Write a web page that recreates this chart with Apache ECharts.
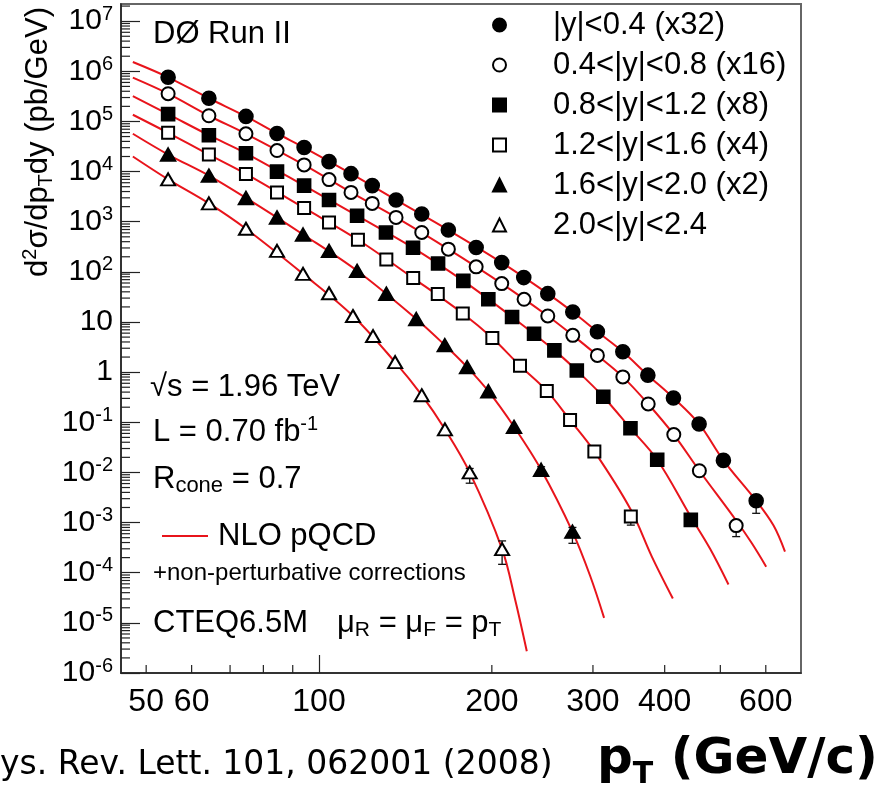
<!DOCTYPE html>
<html><head><meta charset="utf-8">
<script src="https://cdn.jsdelivr.net/npm/echarts@6/dist/echarts.min.js"></script>
<style>html,body{margin:0;padding:0;background:#fff;}#c{width:877px;height:796px;}</style>
</head><body><div id="c"></div>
<script>
const FONT = "'Liberation Sans', Arial, Helvetica, sans-serif";

// ---- data (plotted values, already multiplied by the scale factors) ----
const seriesNames = ['|y|<0.4 (x32)', '0.4<|y|<0.8 (x16)', '0.8<|y|<1.2 (x8)', '1.2<|y|<1.6 (x4)', '1.6<|y|<2.0 (x2)', '2.0<|y|<2.4'];

const ptA = [54.6,64.3,74.6,84.5,94.2,104.1,113.7,123.8,136.2,151.0,168.0,187.8,208.1,227.3,250.3,276.7,305.4,338.2,373.9,414.3,459.2,506.2,577.3];
const valA = [7.6e5,2.9e5,1.26e5,5.75e4,3.02e4,1.58e4,9.1e3,5.25e3,2.72e3,1.43e3,682,306,153,76.9,36.8,15.8,6.40,2.55,0.871,0.306,0.0925,0.0174,0.00272];

const ptB = [54.6,64.3,74.6,84.5,94.2,104.1,113.7,123.8,136.2,151.0,168.0,187.8,208.1,227.6,250.3,276.7,305.4,338.2,374.4,414.9,459.7,532.8];
const valB = [3.58e5,1.30e5,5.68e4,2.63e4,1.36e4,6.92e3,3.85e3,2.32e3,1.22e3,611,284,126,58.3,28.4,13.2,5.42,2.16,0.805,0.232,0.0568,0.0108,8.7e-4];

const ptC = [54.6,64.3,74.6,84.5,94.2,104.1,116.5,130.8,145.8,161.2,178.4,197.2,216.9,236.9,257.0,281.2,312.7,348.7,388.2,444.2];
const valC = [1.40e5,5.32e4,2.32e4,1.00e4,5.25e3,2.72e3,1.32e3,608,302,147,66.1,28.4,12.6,5.83,2.72,1.08,0.324,0.0759,0.0179,1.13e-3];

const ptD = [54.6,64.3,74.6,84.5,94.2,104.1,116.9,131.0,145.9,161.0,178.0,200.4,223.9,249.3,273.7,301.7,349.2];
const valD = [5.94e4,2.19e4,9.0e3,3.85e3,1.88e3,968,437,176,75.2,36.3,14.8,4.79,1.34,0.423,0.111,0.0263,1.32e-3];

const ptE = [54.6,64.3,74.6,84.5,93.8,104.1,116.5,131.0,147.7,165.6,181.1,197.2,218.6,243.7,276.3];
const valE = [2.19e4,8.32e3,2.98e3,1.22e3,557,263,105,36.8,11.5,3.47,1.26,0.417,0.0813,0.0113,6.6e-4];

const ptF = [54.6,64.3,74.6,84.5,93.8,104.1,114.6,124.2,135.7,151.0,165.7,183.0,208.4];
const valF = [7.0e3,2.32e3,724,263,91.2,37.5,13.2,5.25,1.58,0.347,0.0724,0.0100,2.95e-4];

// error bars: [pT, low, high]
const errA = [[577.3,1.53e-3,3.5e-3]];
const errB = [[532.8,5.25e-4,1.1e-3]];
const errC = [];
const errD = [[349.2,8.9e-4,1.6e-3]];
const errE = [[243.7,9.1e-3,1.3e-2],[276.3,3.86e-4,8.0e-4]];
const errF = [[183.0,6.1e-3,1.2e-2],[208.4,1.47e-4,4.31e-4]];

// NLO pQCD curves
const nloPtA = [47.4,54.6,64.3,74.6,84.5,94.2,113.7,136.2,168.0,208.1,250.3,276.7,305.4,338.2,373.9,414.3,459.2,506.2,577.3,619,648];
const nloValA = [1.53e6,7.6e5,2.9e5,1.26e5,5.75e4,3.02e4,9.1e3,2.72e3,682,153,36.8,15.8,6.4,2.55,0.871,0.306,0.0925,0.0174,0.00272,8.7e-4,2.63e-4];
const nloPtB = [47.4,54.6,64.3,74.6,94.2,113.7,136.2,168.0,208.1,250.3,276.7,305.4,338.2,374.4,414.9,459.7,532.8,567.4,600.9];
const nloValB = [7.48e5,3.58e5,1.30e5,5.68e4,1.36e4,3.85e3,1.22e3,284,58.3,13.2,5.42,2.16,0.805,0.232,0.0568,0.0108,1.1e-3,3.86e-4,1.32e-4];
const nloPtC = [47.4,54.6,64.3,74.6,94.2,116.5,145.8,178.4,216.9,257.0,281.2,312.7,348.7,388.2,444.2,479.9,516.6];
const nloValC = [3.2e5,1.40e5,5.32e4,2.32e4,5.25e3,1.32e3,302,66.1,12.6,2.72,1.08,0.324,0.0759,0.0179,1.3e-3,3.0e-4,5.83e-5];
const nloPtD = [47.4,54.6,64.3,74.6,94.2,116.9,145.9,178.0,200.4,223.9,249.3,273.7,301.7,349.2,379.9,413.3];
const nloValD = [1.36e5,5.94e4,2.19e4,9.0e3,1.88e3,437,75.2,14.8,4.79,1.34,0.423,0.111,0.0263,1.8e-3,2.1e-4,3.06e-5];
const nloPtE = [47.4,54.6,64.3,74.6,93.8,116.5,147.7,165.6,181.1,197.2,218.6,243.7,276.3,296.6,313.7];
const nloValE = [5.68e4,2.19e4,8.32e3,2.98e3,557,105,11.5,3.47,1.26,0.417,0.0813,0.0113,6.6e-4,8.7e-5,1.26e-5];
const nloPtF = [47.4,54.6,64.3,74.6,93.8,114.6,135.7,151.0,165.7,183.0,208.4,219.6,230.1];
const nloValF = [2.0e4,7.0e3,2.32e3,724,91.2,13.2,1.58,0.347,0.0724,0.0100,2.95e-4,2.9e-5,2.72e-6];

// axis ticks
const xTickLabels = [50, 60, 100, 200, 300, 400, 600];
const xMinorTicks = [50, 60, 70, 80, 90, 200, 300, 400, 500, 600];
const xMajorTicks = [100];
const yTickExps = [-6,-5,-4,-3,-2,-1,0,1,2,3,4,5,6,7];
const X_MIN = 45.2, X_MAX = 691, Y_MIN = 1e-6, Y_MAX = 2.2e7;

// ---- build ----
const zip = (a, b) => a.map((v, i) => [v, b[i]]);
const yTickVals = yTickExps.map(e => Math.pow(10, e));
const yMinorTicks = [];
yTickExps.forEach(e => { for (let m = 2; m <= 9; m++) { const v = m * Math.pow(10, e); if (v < Y_MAX) yMinorTicks.push(v); } });

const ptsAll = [ptA, ptB, ptC, ptD, ptE, ptF];
const valsAll = [valA, valB, valC, valD, valE, valF];
const errAll = [errA, errB, errC, errD, errE, errF];
const nloPts = [nloPtA, nloPtB, nloPtC, nloPtD, nloPtE, nloPtF];
const nloVals = [nloValA, nloValB, nloValC, nloValD, nloValE, nloValF];
const symbols = ['circle', 'emptyCircle', 'rect', 'emptyRect', 'triangle', 'emptyTriangle'];
const symSizes = [14, 13, 13, 12, [15, 13], [14, 12]];
const RED = '#e8141b';

const series = [];
nloPts.forEach((p, i) => {
  series.push({ type: 'line', name: 'NLO pQCD', data: zip(p, nloVals[i]), showSymbol: false, symbol: 'none',
    smooth: 0.35, lineStyle: { color: RED, width: 2 }, itemStyle: { color: RED }, z: 3, silent: true });
});
errAll.forEach((errs) => {
  series.push({ type: 'custom', coordinateSystem: 'cartesian2d', silent: true, z: 4, data: errs,
    encode: { x: 0, y: [1, 2] },
    renderItem: (params, api) => {
      const x = api.value(0);
      const p1 = api.coord([x, api.value(1)]), p2 = api.coord([x, api.value(2)]);
      const st = { stroke: '#111', lineWidth: 1.3 };
      return { type: 'group', children: [
        { type: 'line', shape: { x1: p1[0], y1: p1[1], x2: p2[0], y2: p2[1] }, style: st },
        { type: 'line', shape: { x1: p1[0] - 4, y1: p1[1], x2: p1[0] + 4, y2: p1[1] }, style: st },
        { type: 'line', shape: { x1: p2[0] - 4, y1: p2[1], x2: p2[0] + 4, y2: p2[1] }, style: st }
      ] };
    } });
});
ptsAll.forEach((p, i) => {
  series.push({ type: 'scatter', name: seriesNames[i], data: zip(p, valsAll[i]), symbol: symbols[i], symbolSize: symSizes[i],
    itemStyle: { color: '#000', borderColor: '#000', borderWidth: 1.6, opacity: 1 }, z: 5, silent: true });
});
// minor ticks drawn through the axes' scales
series.push({ type: 'custom', coordinateSystem: 'cartesian2d', silent: true, z: 6, clip: false,
  data: yMinorTicks.map(v => [X_MIN, v]),
  renderItem: (params, api) => { const p = api.coord([api.value(0), api.value(1)]);
    return { type: 'line', shape: { x1: p[0], y1: p[1], x2: p[0] + 9, y2: p[1] }, style: { stroke: '#222', lineWidth: 1.2 } }; } });
series.push({ type: 'custom', coordinateSystem: 'cartesian2d', silent: true, z: 6, clip: false,
  data: xMinorTicks.map(v => [v, Y_MIN]),
  renderItem: (params, api) => { const p = api.coord([api.value(0), api.value(1)]);
    return { type: 'line', shape: { x1: p[0], y1: p[1], x2: p[0], y2: p[1] - 8 }, style: { stroke: '#222', lineWidth: 1.2 } }; } });

const tok = (o) => Object.assign({ fontFamily: FONT, color: '#000', fill: '#000' }, o);
const RICH = {
  sup: tok({ fontSize: 20, lineHeight: 16, verticalAlign: 'top' }),
  sub: tok({ fontSize: 22, lineHeight: 16, verticalAlign: 'bottom' }),
  sub2: tok({ fontSize: 21, lineHeight: 9, verticalAlign: 'bottom' }),
  tsub: tok({ fontSize: 20, lineHeight: 14, verticalAlign: 'bottom' })
};
function txt(x, y, text, size, extra) {
  return Object.assign({ type: 'text', x: x, y: y, silent: true, z: 10,
    style: Object.assign({ text: text, fontSize: size, fontFamily: FONT, fill: '#000', lineHeight: 36,
      align: 'left', verticalAlign: 'middle', textAlign: 'left', textVerticalAlign: 'middle', rich: RICH }, extra || {}) });
}

const option = {
  animation: false,
  backgroundColor: '#fff',
  textStyle: { fontFamily: FONT },
  grid: { left: 121, top: 4, right: 76, bottom: 123, show: true, borderColor: '#666', borderWidth: 2, containLabel: false, outerBoundsMode: 'none' },
  xAxis: {
    type: 'log', logBase: 10, min: X_MIN, max: X_MAX,
    axisLine: { show: true, lineStyle: { color: '#222', width: 1.5 } },
    axisTick: { show: true, inside: true, length: 18, customValues: xMajorTicks, lineStyle: { color: '#222', width: 1.2 } },
    minorTick: { show: false }, splitLine: { show: false },
    axisLabel: { customValues: xTickLabels, formatter: v => String(Math.round(v)), fontSize: 32, fontFamily: FONT, color: '#000', margin: 13 }
  },
  yAxis: {
    type: 'log', logBase: 10, min: Y_MIN, max: Y_MAX,
    axisLine: { show: true, lineStyle: { color: '#222', width: 1.5 } },
    axisTick: { show: true, inside: true, length: 19, customValues: yTickVals, lineStyle: { color: '#222', width: 1.2 } },
    minorTick: { show: false }, splitLine: { show: false },
    axisLabel: {
      customValues: yTickVals, margin: 8, fontSize: 30, lineHeight: 34, color: '#000',
      formatter: v => { const e = Math.round(Math.log10(v)); if (e === 0) return '{b|1}'; if (e === 1) return '{b|10}'; return '{b|10}{e|' + e + '}'; },
      rich: { b: tok({ fontSize: 30, lineHeight: 34 }), e: tok({ fontSize: 20, lineHeight: 17, verticalAlign: 'top' }) }
    }
  },
  legend: [
    { data: seriesNames, orient: 'vertical', left: 492, top: 5, padding: 0, itemGap: 0, itemWidth: 13, itemHeight: 13, selectedMode: false,
      textStyle: { fontSize: 31, fontFamily: FONT, color: '#000', lineHeight: 40, padding: [0, 0, 0, 42] } },
    { data: [{ name: 'NLO pQCD', icon: 'rect', itemStyle: { color: RED } }], orient: 'vertical', left: 162, top: 516, padding: 0,
      itemWidth: 46, itemHeight: 2, selectedMode: false,
      textStyle: { fontSize: 31, fontFamily: FONT, color: '#000', lineHeight: 40, padding: [0, 0, 0, 5] } }
  ],
  graphic: [
    txt(153, 34, 'DØ Run II', 31),
    txt(150, 387, '√s = 1.96 TeV', 31),
    txt(153, 432, 'L = 0.70 fb{sup|-1}', 31),
    txt(153, 479, 'R{sub|cone} = 0.7', 31),
    txt(153, 573, '+non-perturbative corrections', 24),
    txt(153, 623, 'CTEQ6.5M', 31),
    txt(337, 623, 'μ{sub2|R} = μ{sub2|F} = p{sub2|T}', 31),
    Object.assign(txt(38, 142, 'd{sup|2}σ/dp{tsub|T}dy (pb/GeV)', 31, { align: 'center', textAlign: 'center' }), { rotation: Math.PI / 2 }),
    txt(0, 765, 'ys. Rev. Lett. 101, 062001 (2008)', 33, { fontFamily: "'DejaVu Sans', sans-serif" }),
    txt(597, 760, 'p{bsub|T} (GeV/c)', 50, { fontFamily: "'DejaVu Sans', sans-serif", fontWeight: 'bold', lineHeight: 60,
      rich: { bsub: { fontSize: 30, fontWeight: 'bold', fontFamily: "'DejaVu Sans', sans-serif", fill: '#000', color: '#000', lineHeight: 22, verticalAlign: 'bottom' } } })
  ],
  series: series
};
const chart = echarts.init(document.getElementById('c'), null, { renderer: 'canvas' });
chart.setOption(option);
</script></body></html>
